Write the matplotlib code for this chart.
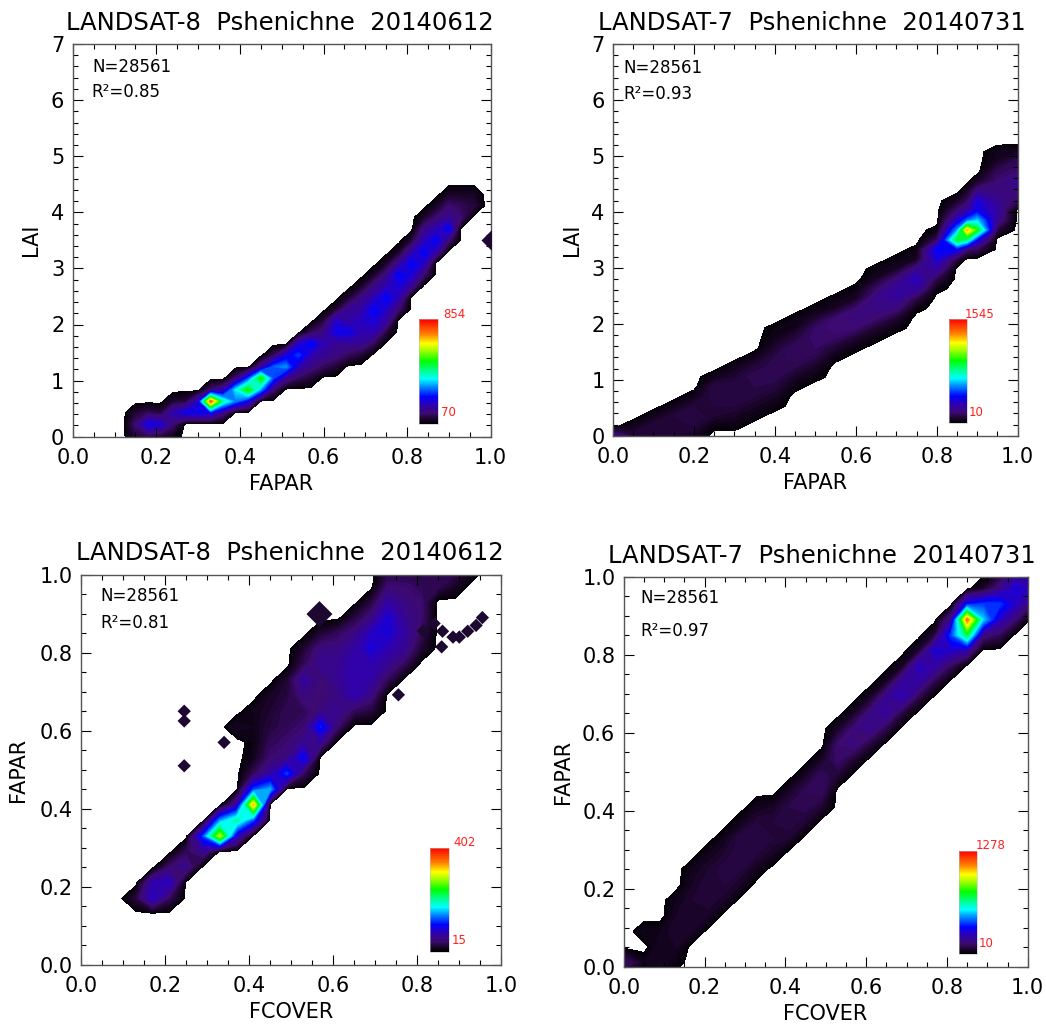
#!/usr/bin/env python3
"""Density scatter panels of LAI, FAPAR and FCOVER for two Landsat scenes. Writes out.png."""

import numpy as np
import matplotlib
matplotlib.use("Agg")
import matplotlib.pyplot as plt
from matplotlib.cm import ScalarMappable
from matplotlib.colors import LinearSegmentedColormap, Normalize

W, H = 1046, 1024

# Density columns. Each column: x, first row index, colour table values (0-100).
TL_X = [0.12, 0.15, 0.18, 0.21, 0.24, 0.27, 0.30, 0.33, 0.36, 0.39, 0.42, 0.45, 0.48, 0.51, 0.54,
        0.57, 0.60, 0.63, 0.66, 0.69, 0.72, 0.75, 0.78, 0.81, 0.84, 0.87, 0.90, 0.93, 0.96, 0.99]
TL_START = [0, 1, 1, 1, 1, 3, 3, 3, 3, 4, 4, 5, 5, 6, 6, 6, 7, 7, 8, 8, 9, 10, 12, 14, 15, 17, 18, 20, 21, 0]
TL_VALUES = [
    [], [6, 10, 5], [8, 24, 8], [6, 22, 6], [3, 10, 18, 5], [24, 6], [24, 20], [24, 90, 10], [12, 48, 16],
    [34, 42, 10], [22, 62, 30], [36, 62, 14], [10, 30, 32, 8], [14, 36, 22], [8, 18, 30, 20],
    [5, 12, 18, 27, 8], [8, 14, 18, 12, 6], [5, 12, 14, 24, 20, 5], [8, 14, 24, 16, 14, 5],
    [5, 14, 18, 20, 16, 12, 4], [8, 18, 22, 26, 18, 12, 4], [6, 16, 20, 26, 18, 12, 4],
    [10, 18, 22, 26, 14, 4], [14, 22, 26, 16, 5], [10, 20, 26, 18, 12, 4], [16, 26, 18, 10, 4],
    [10, 26, 14, 10, 4], [10, 8, 4], [6, 4], [],
]
TL_ROW0, TL_DY = -0.19, 0.205

TR_X = [0.0, 0.05, 0.10, 0.15, 0.20, 0.25, 0.30, 0.35, 0.40, 0.45, 0.50, 0.55, 0.60, 0.65, 0.70,
        0.75, 0.80, 0.85, 0.875, 0.90, 0.95, 1.0]
TR_START = [0, 0, 0, 0, 0, 1, 1, 2, 3, 5, 6, 8, 9, 10, 11, 13, 15, 18, 19, 19, 21, 24]
TR_VALUES = [
    [14], [6, 3], [6, 6, 3], [5, 6, 6, 3], [4, 6, 7, 6, 3], [2, 5, 6, 7, 7, 3], [2, 4, 6, 7, 7, 5, 3],
    [2, 4, 6, 7, 8, 6, 3], [2, 4, 6, 8, 8, 7, 5, 3, 2], [2, 4, 7, 9, 9, 6, 3, 2], [2, 4, 7, 9, 10, 9, 5, 2],
    [2, 5, 9, 11, 10, 4, 2], [2, 5, 10, 12, 10, 4, 2], [2, 5, 10, 13, 13, 9, 4, 2], [2, 5, 11, 15, 16, 11, 4, 2],
    [2, 7, 16, 20, 13, 4, 2], [2, 7, 16, 22, 26, 8, 2],
    [6, 24, 58, 36, 20, 10, 4], [10, 50, 82, 32, 16, 8, 4], [8, 24, 60, 40, 24, 22, 12, 4],
    [6, 14, 16, 14, 12, 10, 8, 4, 3], [8, 12, 14, 10, 8, 4],
]
TR_ROW0, TR_DY = 0.0, 0.175

BL_X = [0.09, 0.13, 0.17, 0.21, 0.25, 0.29, 0.33, 0.37, 0.41, 0.45, 0.49, 0.53, 0.57, 0.61, 0.65,
        0.69, 0.73, 0.77, 0.81, 0.85, 0.89, 0.93, 0.97]
BL_START = [0, 4, 4, 4, 6, 7, 8, 8, 9, 11, 12, 12, 14, 15, 16, 16, 18, 19, 20, 24, 24, 25, 0]
BL_VALUES = [
    [], [6], [20, 18], [8, 20, 10], [14, 8], [14, 30], [72, 36], [20, 50, 16, 0, 0, 0, 0, 4],
    [30, 82, 30, 8, 3, 2, 3, 3], [38, 16, 10, 8, 6, 5, 4], [30, 12, 10, 8, 8, 6, 5],
    [8, 26, 14, 10, 8, 12, 16, 8, 5], [14, 28, 12, 10, 10, 14, 12, 5], [10, 14, 12, 14, 14, 12, 8],
    [8, 18, 18, 18, 16, 12, 6], [6, 12, 16, 18, 22, 20, 12, 6], [8, 14, 18, 22, 22, 16, 10, 6, 4],
    [8, 14, 16, 14, 12, 10, 6, 4], [5, 8, 10, 10, 8, 6, 4], [8, 8, 5], [4, 8, 6], [3, 4], [],
]
BL_ROW0, BL_DY = 0.01, 0.04
BL_OUT_X = [0.245, 0.245, 0.245, 0.34, 0.567, 0.755, 0.814, 0.84, 0.86, 0.858, 0.885, 0.90, 0.92, 0.94, 0.955]
BL_OUT_Y = [0.51, 0.625, 0.65, 0.57, 0.899, 0.692, 0.856, 0.875, 0.855, 0.815, 0.84, 0.84, 0.855, 0.87, 0.89]
BL_OUT_S = [46, 46, 46, 46, 175, 46, 46, 46, 46, 46, 46, 46, 46, 46, 46]

BR_X = [-0.03, 0.01, 0.05, 0.09, 0.13, 0.17, 0.21, 0.25, 0.29, 0.33, 0.37, 0.41, 0.45, 0.49, 0.53, 0.57,
        0.61, 0.65, 0.69, 0.73, 0.77, 0.81, 0.85, 0.89, 0.93, 0.97, 1.01]
BR_START = [1, 1, 1, 1, 1, 3, 4, 5, 6, 7, 8, 9, 10, 11, 13, 14, 15, 16, 17, 18, 19, 20, 21, 22, 22, 23, 24]
BR_VALUES = [
    [9], [9], [3, 0, 3], [4, 4, 3], [2, 4, 5, 4, 3], [4, 5, 5, 4, 3], [4, 6, 6, 5, 3], [4, 6, 7, 5, 3],
    [4, 6, 7, 7, 3], [3, 6, 7, 6, 3], [4, 6, 6, 4], [5, 7, 7, 4], [5, 8, 8, 4], [5, 9, 9, 4], [5, 10, 10, 4],
    [5, 12, 11, 4], [6, 14, 12, 4], [7, 16, 14, 4], [6, 18, 16, 4], [7, 16, 20, 5], [7, 16, 22, 6],
    [8, 20, 30, 14], [16, 55, 88, 26], [12, 40, 30, 4], [8, 20, 30, 12, 5, 3], [10, 20, 22, 14, 5], [10, 18, 18, 8],
]
BR_ROW0, BR_DY = -0.03, 0.04

TITLES = ["LANDSAT-8  Pshenichne  20140612", "LANDSAT-7  Pshenichne  20140731",
          "LANDSAT-8  Pshenichne  20140612", "LANDSAT-7  Pshenichne  20140731"]
XLABELS = ["FAPAR", "FAPAR", "FCOVER", "FCOVER"]
YLABELS = ["LAI", "LAI", "FAPAR", "FAPAR"]
R2 = ["0.85", "0.93", "0.81", "0.97"]
COUNT = "28561"
BAR_MAX = ["854", "1545", "402", "1278"]
BAR_MIN = ["70", "10", "15", "10"]

RAINBOW = LinearSegmentedColormap.from_list("idl_rainbow", [
    (0.0, "#000000"), (0.05, "#1e0530"), (0.10, "#3c0a70"), (0.18, "#3000b0"), (0.26, "#0000ff"),
    (0.36, "#0090ff"), (0.43, "#00ffff"), (0.52, "#00ff80"), (0.60, "#00ff00"), (0.70, "#a0ff00"),
    (0.77, "#ffff00"), (0.86, "#ff8000"), (1.0, "#ff0000"),
])
LEVELS = np.linspace(1, 100, 100)


def frac_box(left, top, right, bottom):
    return [left / W, 1 - bottom / H, (right - left) / W, (bottom - top) / H]


def put_text(fig, px, py, s, **kw):
    kw.setdefault("ha", "center")
    kw.setdefault("va", "center")
    fig.text(px / W, 1 - py / H, s, **kw)


def build_grid(xs, starts, values, row0, dy):
    n_rows = max(s + len(v) for s, v in zip(starts, values)) + 2
    z = np.zeros((n_rows, len(xs)))
    for i, (s, v) in enumerate(zip(starts, values)):
        z[s:s + len(v), i] = v
    return np.array(xs), row0 + dy * np.arange(n_rows), z


def draw_panel(fig, box, grid, ymax, ymajor, yminor, bar_box, outliers=None, marker_size=46):
    ax = fig.add_axes(frac_box(*box))
    x, y, z = grid
    ax.contourf(x, y, z, levels=LEVELS, cmap=RAINBOW, norm=Normalize(0, 100))
    if outliers is not None:
        ax.scatter(outliers[0], outliers[1], marker="D", s=marker_size, color="#1c0830", linewidths=0, zorder=3)
    ax.set_xlim(0, 1)
    ax.set_ylim(0, ymax)
    ax.set_xticks(np.arange(0, 1.01, 0.2))
    ax.set_xticks(np.arange(0, 1.01, 0.05), minor=True)
    ax.set_yticks(ymajor)
    ax.set_yticks(yminor, minor=True)
    ax.tick_params(which="major", direction="in", top=True, right=True, length=7, width=0.8, labelsize=15)
    ax.tick_params(which="minor", direction="in", top=True, right=True, length=3.6, width=0.8)
    ax.tick_params(axis="x", which="major", pad=8)
    ax.tick_params(axis="y", which="major", pad=6)
    ax.xaxis.set_major_formatter("{x:.1f}")
    if ymax == 1:
        ax.yaxis.set_major_formatter("{x:.1f}")
    else:
        ax.yaxis.set_major_formatter("{x:.0f}")
    for spine in ax.spines.values():
        spine.set_color("#555555")
        spine.set_linewidth(1.0)

    cax = fig.add_axes(frac_box(*bar_box))
    cb = fig.colorbar(ScalarMappable(Normalize(0, 100), RAINBOW), cax=cax)
    cb.set_ticks([])
    cb.outline.set_linewidth(0.4)
    cb.outline.set_edgecolor("#bbbbbb")
    return ax


def main():
    fig = plt.figure(figsize=(W / 100, H / 100), dpi=100)

    boxes = [(72.7, 44, 490.7, 436.7), (613, 44, 1017.7, 435.7),
             (81.3, 574.7, 501.3, 964.7), (623.7, 576.7, 1027.7, 966.7)]
    bar_boxes = [(419.3, 319.3, 438.3, 424), (948.7, 318.7, 967, 423.3),
                 (430, 848, 448.7, 951.7), (959, 850.7, 977, 954)]
    lai_major, lai_minor = np.arange(0, 8), np.arange(0, 7.01, 0.2)
    frac_major, frac_minor = np.arange(0, 1.01, 0.2), np.arange(0, 1.01, 0.05)

    draw_panel(fig, boxes[0], build_grid(TL_X, TL_START, TL_VALUES, TL_ROW0, TL_DY), 7, lai_major, lai_minor,
               bar_boxes[0], outliers=([1.0], [3.5]), marker_size=104)
    draw_panel(fig, boxes[1], build_grid(TR_X, TR_START, TR_VALUES, TR_ROW0, TR_DY), 7, lai_major, lai_minor,
               bar_boxes[1])
    draw_panel(fig, boxes[2], build_grid(BL_X, BL_START, BL_VALUES, BL_ROW0, BL_DY), 1, frac_major, frac_minor,
               bar_boxes[2], outliers=(BL_OUT_X, BL_OUT_Y), marker_size=BL_OUT_S)
    draw_panel(fig, boxes[3], build_grid(BR_X, BR_START, BR_VALUES, BR_ROW0, BR_DY), 1, frac_major, frac_minor,
               bar_boxes[3])

    title_pos = [(280, 22.7), (812.3, 22.7), (290, 553.3), (822.3, 555.7)]
    xlabel_pos = [(280.7, 484), (815.5, 483), (291, 1012), (825.5, 1014)]
    ylabel_pos = [(30.7, 240), (572.3, 240), (18.3, 770), (563, 772)]
    n_pos = [(131.7, 66.7), (663, 68), (140, 595.7), (679.7, 598)]
    r_pos = [(126, 91.7), (658, 94), (135, 623), (675.3, 630.7)]
    max_pos = [(454, 315), (980, 314), (464.7, 843), (990.3, 845.7)]
    min_pos = [(448, 413), (976, 412), (458.7, 940.7), (986.3, 943.3)]

    for i in range(4):
        put_text(fig, *title_pos[i], TITLES[i], fontsize=17.5)
        put_text(fig, *xlabel_pos[i], XLABELS[i], fontsize=15)
        put_text(fig, *ylabel_pos[i], YLABELS[i], fontsize=15, rotation=90)
        put_text(fig, *n_pos[i], "N=" + COUNT, fontsize=12)
        put_text(fig, *r_pos[i], "R²=" + R2[i], fontsize=12)
        put_text(fig, *max_pos[i], BAR_MAX[i], fontsize=8.5, color="#ff2020")
        put_text(fig, *min_pos[i], BAR_MIN[i], fontsize=8.5, color="#ff2020")

    fig.savefig("out.png", dpi=100)


if __name__ == "__main__":
    main()
